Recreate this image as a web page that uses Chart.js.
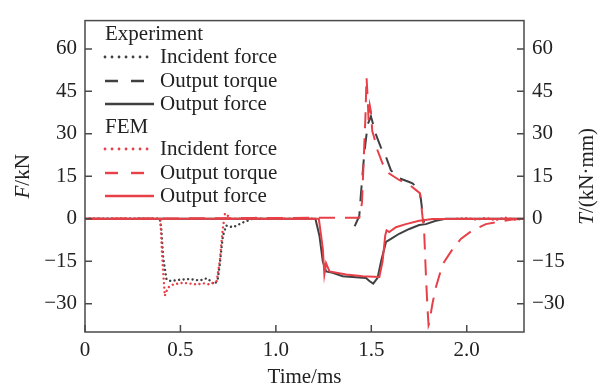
<!DOCTYPE html>
<html>
<head>
<meta charset="utf-8">
<script src="https://cdn.jsdelivr.net/npm/chart.js@4.4.0/dist/chart.umd.min.js"></script>
<style>
  html, body { margin: 0; padding: 0; background: #fff; }
</style>
</head>
<body>
<canvas id="mychart" width="600" height="387"></canvas>
<script>
// time axis in ms, forces in kN, torques in kN*mm
const xTicks = [0, 0.5, 1.0, 1.5, 2.0];
const yTicks = [-30, -15, 0, 15, 30, 45, 60];

// Experiment
const expIncidentT = [0, 0.392, 0.40, 0.41, 0.427, 0.45, 0.50, 0.55, 0.60, 0.64, 0.679, 0.695, 0.706, 0.715, 0.723, 0.74, 0.775, 0.80, 0.827, 0.86, 0.888, 0.92];
const expIncidentF = [0, 0, -4, -14, -21.4, -22, -21.5, -21.3, -21.8, -21.0, -23.2, -21.5, -16.2, -10.5, -5.9, -2.4, -3.0, -2.2, -1.3, -0.5, 0.4, 0];

const expTorqueT = [1.412, 1.416, 1.437, 1.446, 1.463, 1.481, 1.498, 1.524, 1.55, 1.577, 1.603, 1.646, 1.699, 1.716, 1.751, 1.76, 1.772, 1.777];
const expTorqueV = [-2.6, -2.2, 1.0, 9.1, 22.9, 33.3, 36.2, 29.8, 25.2, 21.8, 17.1, 14.3, 13.0, 12.5, 10.2, 6.8, 0, -1.3];

const expOutputT = [0, 1.207, 1.228, 1.246, 1.263, 1.298, 1.35, 1.472, 1.49, 1.51, 1.533, 1.551, 1.577, 1.603, 1.646, 1.699, 1.751, 1.786, 1.838, 1.89, 2.3];
const expOutputF = [0, 0, -5.9, -15.1, -18.6, -19.1, -20.3, -20.9, -22.0, -22.9, -20.9, -15.1, -8.2, -7.1, -5.3, -3.6, -2.2, -1.9, -0.7, 0, 0];

// FEM (null = no value drawn)
const femIncidentT = [0, 0.395, 0.405, 0.418, 0.435, 0.462, 0.514, 0.55, 0.584, 0.62, 0.653, 0.69, 0.706, 0.72, 0.732, 0.741, 0.758, 1.2, 1.21, 1.95, 2.0, 2.05, 2.1, 2.15, 2.2, 2.25, 2.3];
const femIncidentF = [0, 0, -14, -27.2, -24.3, -23.2, -22.6, -22.9, -23.2, -22.8, -23.2, -22.0, -15.0, -4.7, 1.6, 1.9, 0, 0, null, 0, 0.2, -0.3, 0.3, -0.5, 0.4, -0.3, 0];

const femTorqueT = [0, 1.437, 1.451, 1.469, 1.475, 1.481, 1.486, 1.492, 1.498, 1.505, 1.515, 1.533, 1.559, 1.594, 1.646, 1.699, 1.733, 1.755, 1.777, 1.786, 1.794, 1.80, 1.803, 1.82, 1.838, 1.873, 1.917, 1.969, 2.03, 2.10, 2.169, 2.239, 2.3];
const femTorqueV = [0, 0.4, 5.6, 35.6, 50.0, 42.5, 34.4, 40.0, 37.9, 31.0, 28.7, 24.1, 19.5, 16.0, 13.7, 12.0, 10.2, 9.0, -4.7, -19.7, -31.2, -37.6, -37.0, -30.1, -24.3, -16.2, -11.6, -7.1, -4.1, -1.9, -1.0, -0.3, 0];

const femOutputT = [0, 1.225, 1.246, 1.254, 1.263, 1.281, 1.368, 1.455, 1.542, 1.559, 1.573, 1.58, 1.594, 1.629, 1.681, 1.751, 1.82, 2.3];
const femOutputF = [0, 0, -10.5, -19.7, -15.7, -18.6, -19.7, -20.3, -20.6, -15.1, -5.9, -4.1, -4.7, -3.0, -1.9, -0.7, -0.1, 0];

const red = "rgb(232, 64, 72)";
const dark = "rgb(64, 64, 66)";
const dotDash = [0.01, 4.5];
const longDash = [16, 10];

function pts(ts, vs) {
    return ts.map((t, i) => ({ x: t, y: vs[i] }));
}

function line(label, ts, vs, color, dash, axis, round) {
    return {
        label: label,
        data: pts(ts, vs),
        borderColor: color,
        borderWidth: round ? 2.4 : 2,
        borderDash: dash,
        borderCapStyle: round ? "round" : "butt",
        pointRadius: 0,
        tension: 0,
        fill: false,
        spanGaps: false,
        yAxisID: axis
    };
}

// FEM first so the red lines are drawn on top
const datasets = [
    line("Incident force", femIncidentT, femIncidentF, red, dotDash, "y", true),
    line("Output torque", femTorqueT, femTorqueV, red, longDash, "y2", false),
    line("Output force", femOutputT, femOutputF, red, [], "y", false),
    line("Incident force", expIncidentT, expIncidentF, dark, dotDash, "y", true),
    line("Output torque", expTorqueT, expTorqueV, dark, longDash, "y2", false),
    line("Output force", expOutputT, expOutputF, dark, [], "y", false)
];

const serif = "'Liberation Serif', 'Times New Roman', serif";
const fs = 21;
const frameColor = "#4a4a4a";

function fmtNum(v) {
    if (v < 0) return "\u2212" + Math.abs(v);
    return String(v);
}

// frame, inward tick marks, axis titles and the grouped legend
const decor = {
    id: "decor",
    afterDraw(chart) {
        const ctx = chart.ctx;
        const a = chart.chartArea;
        const sx = chart.scales.x, sy = chart.scales.y, sy2 = chart.scales.y2;
        ctx.save();
        ctx.strokeStyle = frameColor;
        ctx.lineWidth = 1.5;
        ctx.strokeRect(a.left, a.top, a.right - a.left, a.bottom - a.top);
        ctx.beginPath();
        xTicks.forEach(v => {
            const px = sx.getPixelForValue(v);
            ctx.moveTo(px, a.bottom);
            ctx.lineTo(px, a.bottom - 7);
        });
        yTicks.forEach(v => {
            const py = sy.getPixelForValue(v);
            ctx.moveTo(a.left, py);
            ctx.lineTo(a.left + 7, py);
            const py2 = sy2.getPixelForValue(v);
            ctx.moveTo(a.right, py2);
            ctx.lineTo(a.right - 7, py2);
        });
        ctx.stroke();

        // axis titles
        ctx.fillStyle = "#222";
        ctx.textBaseline = "middle";
        ctx.font = fs + "px " + serif;
        ctx.textAlign = "center";
        ctx.fillText("Time/ms", (a.left + a.right) / 2, 377);

        function mixed(parts, cx, cy) {
            ctx.save();
            ctx.translate(cx, cy);
            ctx.rotate(-Math.PI / 2);
            let w = 0;
            parts.forEach(p => {
                ctx.font = (p[1] ? "italic " : "") + fs + "px " + serif;
                w += ctx.measureText(p[0]).width;
            });
            let x = -w / 2;
            ctx.textAlign = "left";
            parts.forEach(p => {
                ctx.font = (p[1] ? "italic " : "") + fs + "px " + serif;
                ctx.fillText(p[0], x, 0);
                x += ctx.measureText(p[0]).width;
            });
            ctx.restore();
        }
        const midY = (a.top + a.bottom) / 2;
        mixed([["F", true], ["/kN", false]], 23, midY);
        mixed([["T", true], ["/(kN\u00b7mm)", false]], 587, midY);

        // legend
        const lx = 105, lw = 49, tx = 160;
        const rows = [
            { head: "Experiment", y: 34 },
            { ds: 3, y: 57, dash: [0.01, 7] },
            { ds: 4, y: 81, dash: [13, 13] },
            { ds: 5, y: 104, dash: [] },
            { head: "FEM", y: 127 },
            { ds: 0, y: 149, dash: [0.01, 7] },
            { ds: 1, y: 173, dash: [13, 13] },
            { ds: 2, y: 196, dash: [] }
        ];
        ctx.textAlign = "left";
        ctx.font = fs + "px " + serif;
        rows.forEach(r => {
            if (r.head) {
                ctx.fillStyle = "#222";
                ctx.fillText(r.head, lx, r.y);
                return;
            }
            const d = chart.data.datasets[r.ds];
            ctx.save();
            ctx.strokeStyle = d.borderColor;
            ctx.lineWidth = d.borderWidth + 0.4;
            ctx.lineCap = d.borderCapStyle;
            ctx.setLineDash(r.dash);
            ctx.beginPath();
            ctx.moveTo(lx, r.y);
            ctx.lineTo(lx + lw, r.y);
            ctx.stroke();
            ctx.restore();
            ctx.fillStyle = "#222";
            ctx.fillText(d.label, tx, r.y);
        });
        ctx.restore();
    }
};

new Chart("mychart", {
    type: "line",
    data: { datasets: datasets },
    options: {
        responsive: false,
        animation: false,
        devicePixelRatio: 1,
        layout: { padding: { top: 14, left: 0, right: 0, bottom: 0 } },
        plugins: { legend: { display: false }, tooltip: { enabled: false } },
        scales: {
            x: {
                type: "linear",
                min: 0,
                max: 2.3,
                afterFit: s => { s.height = 55; },
                afterBuildTicks: s => { s.ticks = xTicks.map(v => ({ value: v })); },
                grid: { display: false, drawTicks: false },
                border: { display: false },
                ticks: {
                    padding: 6,
                    color: "#222",
                    font: { family: serif, size: fs },
                    maxRotation: 0,
                    callback: v => (v === 0 ? "0" : v.toFixed(1))
                }
            },
            y: {
                position: "left",
                min: -40,
                max: 70,
                afterFit: s => { s.width = 85; },
                afterBuildTicks: s => { s.ticks = yTicks.map(v => ({ value: v })); },
                grid: { display: false, drawTicks: false },
                border: { display: false },
                ticks: { padding: 8, color: "#222", font: { family: serif, size: fs }, callback: fmtNum }
            },
            y2: {
                position: "right",
                min: -40,
                max: 70,
                afterFit: s => { s.width = 76; },
                afterBuildTicks: s => { s.ticks = yTicks.map(v => ({ value: v })); },
                grid: { display: false, drawTicks: false },
                border: { display: false },
                ticks: { padding: 8, color: "#222", font: { family: serif, size: fs }, callback: fmtNum }
            }
        }
    },
    plugins: [decor]
});
</script>
</body>
</html>
